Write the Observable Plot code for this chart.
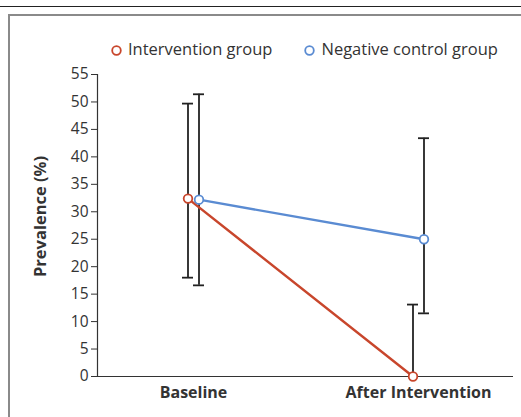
<!DOCTYPE html>
<html>
<head>
<meta charset="utf-8">
<script src="https://cdn.jsdelivr.net/npm/d3@7"></script>
<script src="https://cdn.jsdelivr.net/npm/@observablehq/plot@0.6"></script>
<style>
  html, body { margin: 0; padding: 0; background: #fff; }
  #wrap { position: relative; width: 521px; height: 417px; overflow: hidden; font-family: "Open Sans", sans-serif; }
  #topline { position: absolute; left: 0; top: 6px; width: 521px; height: 0; border-top: 1.5px solid #222; }
  #box { position: absolute; left: 8px; top: 14px; width: 540px; height: 440px; border: 2px solid #8a8a8a; box-sizing: border-box; }
  #legend { position: absolute; left: 111px; top: 37px; font-size: 16.5px; color: #333; white-space: nowrap; }
  #legend span.item { margin-right: 32px; }
  #legend svg { vertical-align: -1px; margin-right: 6px; }
  #chart { position: absolute; left: 0; top: 0; }
</style>
</head>
<body>
<div id="wrap">
  <div id="topline"></div>
  <div id="box"></div>
  <div id="legend"></div>
  <div id="chart"></div>
</div>
<script>
const categories = ["Baseline", "After Intervention"];
const groups = ["Intervention group", "Negative control group"];
const interventionValues = [32.4, 0];
const interventionLow = [18.0, 0];
const interventionHigh = [49.7, 13.1];
const controlValues = [32.2, 25.0];
const controlLow = [16.6, 11.5];
const controlHigh = [51.4, 43.4];
const yTicks = [0, 5, 10, 15, 20, 25, 30, 35, 40, 45, 50, 55];

const colors = {"Intervention group": "#c8462c", "Negative control group": "#5a8bd2"};
const offsets = {"Intervention group": -5.5, "Negative control group": 5.5};

const rows = [];
categories.forEach((c, i) => {
  rows.push({cat: c, group: groups[0], v: interventionValues[i], lo: interventionLow[i], hi: interventionHigh[i]});
  rows.push({cat: c, group: groups[1], v: controlValues[i], lo: controlLow[i], hi: controlHigh[i]});
});

// legend
const legend = document.getElementById("legend");
groups.forEach(g => {
  const s = document.createElement("span");
  s.className = "item";
  s.innerHTML = `<svg width="11" height="11"><circle cx="5.5" cy="5.5" r="4.3" fill="white" stroke="${colors[g]}" stroke-width="1.8"/></svg>${g}`;
  legend.appendChild(s);
});

const marks = [];
groups.forEach(g => {
  const d = rows.filter(r => r.group === g);
  const dx = offsets[g];
  marks.push(Plot.ruleX(d, {x: "cat", y1: "lo", y2: "hi", dx, stroke: "#222", strokeWidth: 1.8}));
  marks.push(Plot.ruleY(d.filter(r => r.hi > r.v), {x1: "cat", x2: "cat", y: "hi", dx, insetLeft: -5.5, insetRight: -5.5, stroke: "#222", strokeWidth: 1.8}));
  marks.push(Plot.ruleY(d.filter(r => r.lo < r.v), {x1: "cat", x2: "cat", y: "lo", dx, insetLeft: -5.5, insetRight: -5.5, stroke: "#222", strokeWidth: 1.8}));
});
marks.push(Plot.ruleY([0], {stroke: "#333", strokeWidth: 1.2}));
marks.push(Plot.frame({anchor: "left", stroke: "#333", strokeWidth: 1.2}));
groups.forEach(g => {
  const d = rows.filter(r => r.group === g);
  const dx = offsets[g];
  marks.push(Plot.line(d, {x: "cat", y: "v", dx, stroke: colors[g], strokeWidth: 2.4}));
});
groups.forEach(g => {
  const d = rows.filter(r => r.group === g);
  const dx = offsets[g];
  marks.push(Plot.dot(d, {x: "cat", y: "v", dx, r: 4.3, fill: "white", stroke: colors[g], strokeWidth: 1.8}));
});
marks.push(Plot.axisX({tickSize: 0, tickPadding: 10, fontSize: 16, fontWeight: "bold", label: null, fill: "#333"}));
marks.push(Plot.axisY({ticks: yTicks, tickSize: 6, tickPadding: 3, fontSize: 15.5, fill: "#333", stroke: "#333", label: null}));
marks.push(Plot.text(["Prevalence (%)"], {frameAnchor: "left", textAnchor: "middle", dx: -57, dy: -9, rotate: -90, fontSize: 16.5, fontWeight: "bold", fill: "#333"}));

const chart = Plot.plot({
  width: 521,
  height: 417,
  marginLeft: 97,
  marginRight: 8,
  marginTop: 74,
  marginBottom: 41,
  style: {fontFamily: "'Open Sans', sans-serif", background: "transparent", overflow: "visible"},
  x: {type: "point", domain: categories, range: [192.5, 418], padding: 0},
  y: {domain: [0, 55]},
  marks
});
document.getElementById("chart").appendChild(chart);
</script>
</body>
</html>
